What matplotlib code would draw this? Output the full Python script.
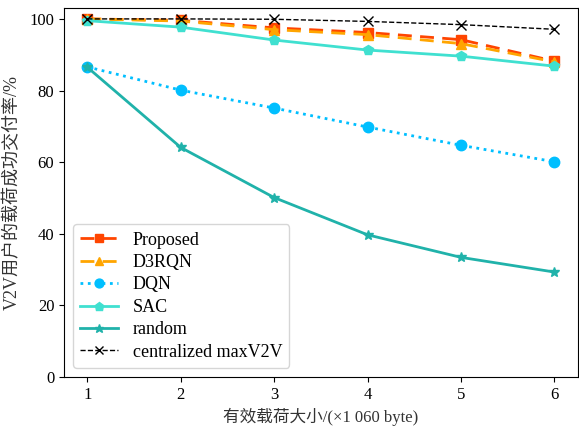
import matplotlib
matplotlib.use("Agg")
import matplotlib.pyplot as plt

plt.rcParams['font.family'] = ['Liberation Serif', 'Noto Sans CJK SC']

x = [1, 2, 3, 4, 5, 6]
proposed = [100, 99.6, 97.5, 96.2, 94.2, 88.2]
d3rqn = [100, 99.4, 97.0, 95.6, 93.1, 88.0]
dqn = [86.6, 80.1, 75.1, 69.8, 64.7, 60.1]
sac = [99.5, 97.7, 94.1, 91.3, 89.6, 86.8]
random_ = [86.5, 64.1, 50.1, 39.7, 33.4, 29.3]
central = [100, 100, 99.9, 99.3, 98.4, 97.1]

fig = plt.figure(figsize=(5.79, 4.3), dpi=100)
ax = fig.add_axes([0.1105, 0.1233, 0.8875, 0.8577])

ax.plot(x, proposed, color='#FF4500', linestyle='--', linewidth=2, marker='s', markersize=7.5, label='Proposed', dashes=(5, 3))
ax.plot(x, d3rqn, color='#FFA500', linestyle='--', linewidth=2, marker='^', markersize=7.5, label='D3RQN', dashes=(5, 3))
ax.plot(x, dqn, color='#00BFFF', linestyle=':', linewidth=2, marker='o', markersize=7.5, label='DQN')
ax.plot(x, sac, color='#40E0D0', linestyle='-', linewidth=2, marker='p', markersize=7.5, label='SAC')
ax.plot(x, random_, color='#20B2AA', linestyle='-', linewidth=2, marker='*', markersize=7.5, label='random')
ax.plot(x, central, color='black', linestyle='--', linewidth=1, marker='x', markersize=7, label='centralized maxV2V')

ax.set_ylim(0, 103)
ax.set_xlim(0.75, 6.25)
ax.set_xticks(x)
ax.set_yticks([0, 20, 40, 60, 80, 100])
ax.tick_params(labelsize=12)
ax.set_xlabel('有效载荷大小/(×1 060 byte)', fontsize=12, color='#333333')
ax.set_ylabel('V2V用户的载荷成功交付率/%', fontsize=13, color='#333333', labelpad=6)
ax.legend(loc='lower left', fontsize=13, handlelength=2.1, labelspacing=0.3,
          markerscale=0.85)

fig.savefig('out.png', dpi=100)
